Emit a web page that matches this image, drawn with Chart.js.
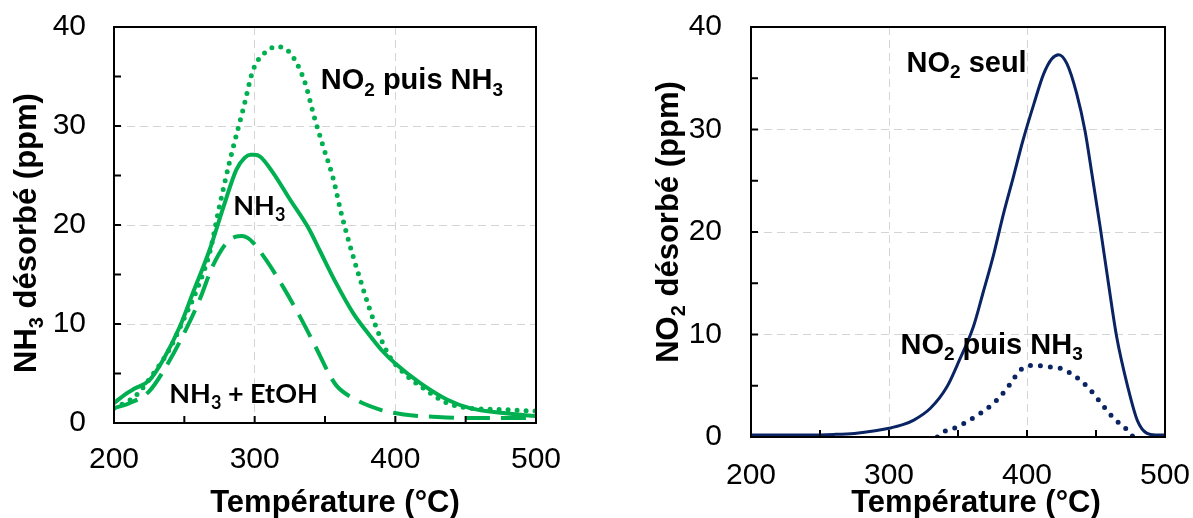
<!DOCTYPE html>
<html><head><meta charset="utf-8">
<script src="https://cdn.jsdelivr.net/npm/chart.js@4.4.0/dist/chart.umd.min.js"></script>
<style>
html,body{margin:0;padding:0;background:#fff;width:1193px;height:518px;overflow:hidden}
#l{position:absolute;left:0;top:0}
#r{position:absolute;left:620px;top:0}
</style></head><body>
<canvas id="l" width="560" height="518"></canvas>
<canvas id="r" width="573" height="518"></canvas>
<script>
// ---- tick labels ----
const tempTicks = [200, 300, 400, 500];
const ppmTicks = [0, 10, 20, 30, 40];
const tempMinor = [200, 250, 300, 350, 400, 450, 500];
const ppmMinor = [0, 5, 10, 15, 20, 25, 30, 35, 40];

// ---- left chart: NH3 desorbed ----
const nh3T = [200, 208, 215, 225, 235, 247, 256, 268, 278, 287, 293, 297, 300, 304, 313, 325, 339, 346, 358, 370, 382, 390, 400, 418, 437, 453, 477, 500];
const nh3V = [2.0, 2.9, 3.5, 4.3, 6.4, 9.8, 13.1, 17.5, 21.9, 25.6, 26.8, 27.1, 27.1, 26.9, 25.3, 22.6, 19.5, 17.5, 14.1, 11.1, 8.8, 7.4, 6.0, 4.0, 2.35, 1.5, 1.0, 0.7];

const no2nh3T = [200, 215, 228, 240, 249, 259, 268, 275, 282, 292, 299, 308, 316, 325, 335, 343, 349, 356, 361, 368, 375, 382, 389, 396, 406, 418, 437, 453, 477, 500];
const no2nh3V = [1.5, 2.7, 5.0, 7.6, 10.3, 13.5, 17.2, 21.9, 26.3, 31.8, 35.7, 37.5, 38.0, 37.4, 34.7, 30.6, 27.8, 24.6, 21.5, 17.8, 14.5, 11.4, 8.75, 6.7, 5.05, 3.7, 2.0, 1.5, 1.35, 1.2];

const etohT = [200, 211, 225, 237, 251, 261, 270, 280, 286, 291, 295, 299, 308, 320, 332, 344, 352, 358, 370, 389, 406, 430, 453, 477, 500];
const etohV = [1.5, 2.0, 3.2, 5.7, 9.4, 12.5, 15.8, 18.2, 18.8, 18.9, 18.7, 18.2, 16.5, 13.8, 10.8, 7.5, 5.2, 3.8, 2.5, 1.35, 0.86, 0.6, 0.5, 0.5, 0.5];

// ---- right chart: NO2 desorbed ----
const no2T = [200, 220, 240, 260, 275, 290, 300, 310, 318, 330, 342, 351, 361, 368, 376, 383, 390, 397, 405, 412, 418, 423, 429, 436, 442, 447, 453, 459, 465, 473, 480, 487, 493, 500];
const no2V = [0.2, 0.2, 0.2, 0.25, 0.35, 0.6, 0.85, 1.2, 1.65, 2.8, 4.9, 7.5, 10.7, 14.0, 17.9, 21.8, 25.3, 28.9, 32.5, 35.4, 36.9, 37.3, 36.4, 33.5, 29.9, 25.7, 20.5, 15.0, 9.75, 4.9, 1.6, 0.35, 0.2, 0.2];

const no2bT = [335, 341, 350, 356, 366, 378, 388, 395, 405, 415, 424, 434, 444, 454, 463, 473, 477];
const no2bV = [0, 0.6, 1.0, 1.46, 2.28, 3.58, 5.2, 6.5, 7.0, 6.85, 6.7, 6.0, 4.87, 3.25, 1.8, 0.65, 0];

const GREEN = '#00b050';
const NAVY = '#0a2463';
const ARIAL = '"Liberation Sans", Arial, Helvetica, sans-serif';
const CALIBRI = 'Lato, "Liberation Sans", sans-serif';

function pts(xs, ys) { return xs.map((x, i) => ({x: x, y: ys[i]})); }

function drawRich(ctx, segs, x, y, size, family, align) {
  const fMain = 'bold ' + size + 'px ' + family;
  const fSub = 'bold ' + Math.round(size * 0.65) + 'px ' + family;
  let w = 0;
  segs.forEach(s => { ctx.font = s[1] ? fSub : fMain; w += ctx.measureText(s[0]).width; });
  let cx = align === 'center' ? x - w / 2 : x;
  ctx.textAlign = 'left';
  ctx.textBaseline = 'alphabetic';
  ctx.fillStyle = '#000';
  segs.forEach(s => {
    ctx.font = s[1] ? fSub : fMain;
    ctx.fillText(s[0], cx, y + (s[1] ? size * 0.22 : 0));
    cx += ctx.measureText(s[0]).width;
  });
}

const deco = {
  id: 'deco',
  afterDatasetsDraw(chart, args, o) {
    const ctx = chart.ctx, a = chart.chartArea;
    const xs = chart.scales.x, ys = chart.scales.y;
    ctx.save();
    ctx.strokeStyle = '#000';
    ctx.lineWidth = 2;
    ctx.beginPath();
    tempMinor.forEach(v => { const p = xs.getPixelForValue(v); ctx.moveTo(p, a.bottom); ctx.lineTo(p, a.bottom - 7); });
    ppmMinor.forEach(v => { const p = ys.getPixelForValue(v); ctx.moveTo(a.left, p); ctx.lineTo(a.left + 7, p); });
    ctx.stroke();
    ctx.lineWidth = 2;
    ctx.strokeRect(a.left, a.top, a.right - a.left, a.bottom - a.top);
    o.labels.forEach(l => {
      drawRich(ctx, l.segs, xs.getPixelForValue(l.x), ys.getPixelForValue(l.y), l.size, l.family, 'left');
    });
    drawRich(ctx, o.xTitle.segs, o.xTitle.cx, o.xTitle.base, o.titleSize, ARIAL, 'center');
    ctx.translate(o.yTitle.base, o.yTitle.cy);
    ctx.rotate(-Math.PI / 2);
    drawRich(ctx, o.yTitle.segs, 0, 0, o.titleSize, ARIAL, 'center');
    ctx.restore();
  }
};

function noPad(s) { s.paddingTop = 0; s.paddingBottom = 0; s.paddingLeft = 0; s.paddingRight = 0; }

function makeChart(id, datasets, cfg) {
  return new Chart(document.getElementById(id), {
    type: 'line',
    data: {datasets: datasets},
    plugins: [deco],
    options: {
      responsive: false,
      animation: false,
      devicePixelRatio: 1,
      layout: {padding: {left: 0, right: cfg.padRight, top: 27, bottom: 0}},
      plugins: {legend: {display: false}, tooltip: {enabled: false}, deco: cfg.deco},
      elements: {point: {radius: 0}, line: {cubicInterpolationMode: 'monotone'}},
      scales: {
        x: {
          type: 'linear', min: 200, max: 500,
          afterBuildTicks: s => { s.ticks = tempTicks.map(v => ({value: v})); },
          afterFit: s => { s.height = cfg.xHeight; noPad(s); },
          ticks: {font: {family: ARIAL, size: 30}, color: '#000', padding: cfg.xPad, maxRotation: 0, autoSkip: false},
          grid: {color: '#d4d4d4', lineWidth: 1, drawTicks: false},
          border: {display: false, dash: [8, 5]}
        },
        y: {
          min: 0, max: 40,
          afterBuildTicks: s => { s.ticks = ppmTicks.map(v => ({value: v})); },
          afterFit: s => { s.width = cfg.yWidth; noPad(s); },
          ticks: {font: {family: ARIAL, size: 30}, color: '#000', padding: cfg.yPad},
          grid: {color: '#d4d4d4', lineWidth: 1, drawTicks: false},
          border: {display: false, dash: [8, 5]}
        }
      }
    }
  });
}

makeChart('l', [
  {data: pts(no2nh3T, no2nh3V), borderColor: GREEN, borderWidth: 5, borderDash: [0, 9], borderCapStyle: 'round', fill: false},
  {data: pts(etohT, etohV), borderColor: GREEN, borderWidth: 4, borderDash: [25, 11], borderCapStyle: 'butt', fill: false},
  {data: pts(nh3T, nh3V), borderColor: GREEN, borderWidth: 4, fill: false}
], {
  padRight: 24, xHeight: 95, yWidth: 114, xPad: 19, yPad: 28,
  deco: {
    titleSize: 31,
    xTitle: {segs: [['Température (°C)']], cx: 335, base: 512},
    yTitle: {segs: [['NH'], ['3', 1], [' désorbé (ppm)']], base: 36, cy: 233},
    labels: [
      {segs: [['NO'], ['2', 1], [' puis NH'], ['3', 1]], x: 347, y: 33.7, size: 29, family: ARIAL},
      {segs: [['NH'], ['3', 1]], x: 284.8, y: 21.0, size: 27, family: CALIBRI},
      {segs: [['NH'], ['3', 1], [' + EtOH']], x: 239.3, y: 2.0, size: 27, family: CALIBRI}
    ]
  }
});

makeChart('r', [
  {data: pts(no2bT, no2bV), borderColor: NAVY, borderWidth: 5, borderDash: [0, 10], borderCapStyle: 'round', fill: false},
  {data: pts(no2T, no2V), borderColor: NAVY, borderWidth: 3, fill: false}
], {
  padRight: 28, xHeight: 81, yWidth: 131, xPad: 21, yPad: 29,
  deco: {
    titleSize: 31,
    xTitle: {segs: [['Température (°C)']], cx: 356, base: 512},
    yTitle: {segs: [['NO'], ['2', 1], [' désorbé (ppm)']], base: 58, cy: 222},
    labels: [
      {segs: [['NO'], ['2', 1], [' seul']], x: 312.7, y: 35.6, size: 29, family: ARIAL},
      {segs: [['NO'], ['2', 1], [' puis NH'], ['3', 1]], x: 308.3, y: 8.13, size: 29, family: ARIAL}
    ]
  }
});
</script>
</body></html>
